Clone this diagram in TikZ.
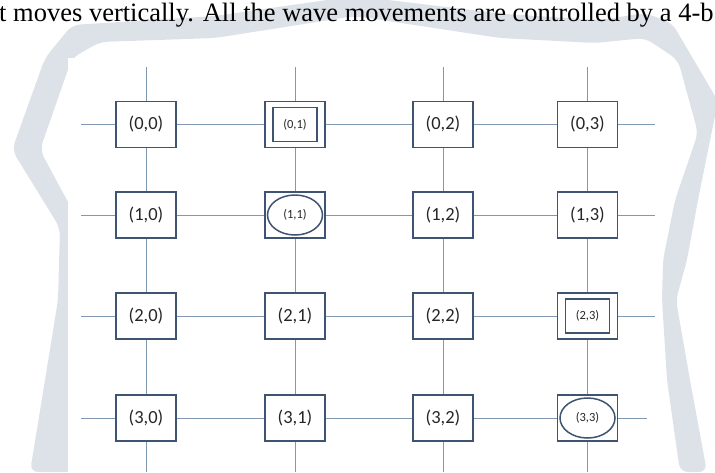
\documentclass[tikz,border=0pt]{standalone}
\usepackage{fontspec}
\setmainfont{Liberation Serif}
\newfontfamily\cellfont{Carlito}
\usetikzlibrary{shapes.geometric}

\definecolor{wmgray}{RGB}{221,226,233}
\definecolor{boxblue}{RGB}{62,84,114}
\definecolor{linkblue}{RGB}{128,152,178}

\tikzset{
  wmark/.style={fill=wmgray, rounded corners=8pt},
  cell/.style={draw=boxblue, line width=1.6pt, fill=white, inner sep=0pt,
    minimum width=60pt, minimum height=46pt, text=black!85,
    font=\cellfont\fontsize{18.5}{20}\selectfont},
  inbox/.style={draw=boxblue, line width=1.5pt, inner sep=0pt,
    minimum width=44pt, minimum height=34pt, text=black!85,
    font=\cellfont\fontsize{12.5}{14}\selectfont},
  inoval/.style={ellipse, draw=boxblue, line width=1.5pt, inner sep=0pt,
    minimum width=55pt, minimum height=40pt, text=black!85,
    font=\cellfont\fontsize{12.5}{14}\selectfont},
  link/.style={draw=linkblue, line width=1pt}
}

\begin{document}
\begin{tikzpicture}[x=1pt,y=-1pt]
  \useasboundingbox (0,0) rectangle (715,472);
  % watermark behind the figure
  \fill[wmark] (30,472) -- (58,300) -- (60,228) -- (12,150) -- (45,58) -- (72,25)
    -- (215,16) -- (355,-4) -- (505,14) -- (600,20) -- (645,13) -- (672,23)
    -- (718,101) -- (698,200) -- (687,260) -- (676,300) -- (690,380) -- (707,472)
    -- (680,472) -- (667,380) -- (662,300) -- (663,260) -- (675,200) -- (698,133)
    -- (678,60) -- (645,38) -- (595,43) -- (500,38) -- (355,16) -- (215,38)
    -- (100,42) -- (72,58) -- (40,150) -- (75,215) -- (75,472) -- cycle;
  \fill[white] (68,58) rectangle (662,472);
  \node[anchor=base west, inner sep=0pt, font=\fontsize{26.5}{30}\selectfont]
    (head) at (-1,21) {t moves vertically. All the wave movements are controlled by a 4-b};

  % grid cells
  \foreach \r/\c/\x/\y in {0/0/146/124.5, 0/2/443/124.5, 0/3/587.5/124.5,
                           1/0/146/215,   1/2/443/215,   1/3/587.5/215,
                           2/0/146/316,   2/1/295/316,   2/2/443/316,
                           3/0/146/418,   3/1/295/418,   3/2/443/418}
    \node[cell] (n\r\c) at (\x,\y) {(\r,\c)};
  \node[cell] (n01) at (295,124.5) {};
  \node[inbox] (n01i) at (n01) {(0,1)};
  \node[cell] (n11) at (295,215) {};
  \node[inoval] (n11i) at (n11) {(1,1)};
  \node[cell] (n23) at (587.5,316) {};
  \node[inbox] (n23i) at (n23) {(2,3)};
  \node[cell] (n33) at (587.5,418) {};
  \node[inoval] (n33i) at (n33) {(3,3)};

  % links
  \foreach \r/\ex in {0/655,1/655,2/655,3/647} {
    \coordinate (w\r) at (81,0 |- n\r0);
    \coordinate (e\r) at (\ex,0 |- n\r0);
    \draw[link] (w\r) -- (n\r0) -- (n\r1) -- (n\r2) -- (n\r3) -- (e\r);
  }
  \foreach \c in {0,...,3} {
    \coordinate (t\c) at (n0\c |- 0,67);
    \coordinate (b\c) at (n0\c |- 0,472);
    \draw[link] (t\c) -- (n0\c) -- (n1\c) -- (n2\c) -- (n3\c) -- (b\c);
  }
\end{tikzpicture}
\end{document}
